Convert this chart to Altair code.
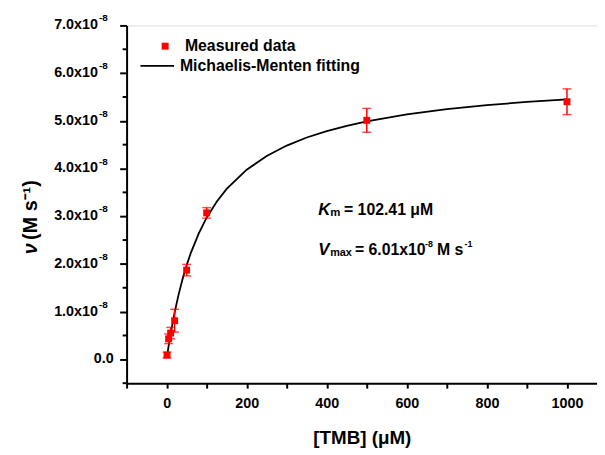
import altair as alt
import pandas as pd

# Measured data (velocity in units of 1e-8 M/s)
tmb_um = [1, 5, 10, 20, 50, 100, 500, 1000]
velocity_e8 = [0.09, 0.43, 0.55, 0.81, 1.87, 3.07, 5.01, 5.40]
error_e8 = [0.06, 0.10, 0.12, 0.24, 0.12, 0.11, 0.25, 0.27]

# Michaelis-Menten fitting curve
fit_x = [1, 5, 10, 20, 30, 40, 50, 60, 80, 100, 125, 150, 200, 250, 300,
         350, 400, 450, 500, 600, 700, 800, 900, 1000]
fit_y = [0.058, 0.280, 0.535, 0.982, 1.362, 1.688, 1.972, 2.220, 2.636,
         2.969, 3.304, 3.572, 3.975, 4.264, 4.481, 4.650, 4.785, 4.896,
         4.988, 5.134, 5.243, 5.328, 5.396, 5.452]

y_major = [0, 1, 2, 3, 4, 5, 6, 7]
y_major_text = ["0.0", "1.0x10", "2.0x10", "3.0x10", "4.0x10", "5.0x10", "6.0x10", "7.0x10"]
y_minor = [-0.5, 0.5, 1.5, 2.5, 3.5, 4.5, 5.5, 6.5]
x_ticks = [-100, 0, 100, 200, 300, 400, 500, 600, 700, 800, 900, 1000]

FONT = "Liberation Sans"
RED = "#ff0000"
W, H = 476, 362

pts = pd.DataFrame({"x": tmb_um, "y": velocity_e8,
                    "lo": [v - e for v, e in zip(velocity_e8, error_e8)],
                    "hi": [v + e for v, e in zip(velocity_e8, error_e8)]})
fit = pd.DataFrame({"x": fit_x, "y": fit_y})
ymaj = pd.DataFrame({"v": y_major, "t": y_major_text})
ymin = pd.DataFrame({"v": y_minor})
one = pd.DataFrame({"a": [0]})

xs = alt.Scale(domain=[-100, 1075], nice=False, zero=False)
ys = alt.Scale(domain=[-0.5, 7.0], nice=False, zero=False)

x_axis = alt.Axis(values=x_ticks, format="d",
                  labelExpr="datum.value >= 0 && datum.value % 200 == 0 ? datum.label : ''",
                  labelFlush=False, labelOverlap=False,
                  tickSize=5, tickWidth=2, tickColor="black",
                  domainColor="black", domainWidth=2, grid=False,
                  labelFont=FONT, labelFontSize=14.5, labelFontWeight="bold",
                  labelColor="black", labelPadding=9,
                  title="[TMB] (μM)", titleFont=FONT, titleFontSize=19,
                  titleFontWeight="bold", titleColor="black", titlePadding=19)
y_axis = alt.Axis(values=y_major, labels=False, title=None,
                  tickSize=7, tickWidth=2, tickColor="black",
                  domainColor="black", domainWidth=2, grid=False)


def X(f):
    return alt.X(f, scale=xs, axis=x_axis)


def Y(f):
    return alt.Y(f, scale=ys, axis=y_axis)


curve = alt.Chart(fit).mark_line(color="black", strokeWidth=1.8).encode(x=X("x:Q"), y=Y("y:Q"))
err = alt.Chart(pts).mark_rule(color=RED, strokeWidth=1.5).encode(x=X("x:Q"), y=Y("lo:Q"), y2="hi:Q")
cap_hi = alt.Chart(pts).mark_tick(color=RED, orient="horizontal", size=9, thickness=1.5).encode(
    x=X("x:Q"), y=Y("hi:Q"))
cap_lo = alt.Chart(pts).mark_tick(color=RED, orient="horizontal", size=9, thickness=1.5).encode(
    x=X("x:Q"), y=Y("lo:Q"))
squares = alt.Chart(pts).mark_square(color=RED, size=49, opacity=1).encode(x=X("x:Q"), y=Y("y:Q"))

minor_y = alt.Chart(ymin).mark_rule(color="black", strokeWidth=2).encode(
    y=Y("v:Q"), x=alt.value(-4), x2=alt.value(0))

lab_txt = dict(font=FONT, fontSize=14.5, fontWeight="bold", color="black")
lab_main = alt.Chart(ymaj[ymaj.v > 0]).mark_text(align="right", baseline="middle", **lab_txt).encode(
    y=Y("v:Q"), x=alt.value(-29), text="t:N")
lab_zero = alt.Chart(ymaj[ymaj.v == 0]).mark_text(align="right", baseline="middle", **lab_txt).encode(
    y=Y("v:Q"), x=alt.value(-13), text="t:N")
lab_exp = alt.Chart(ymaj[ymaj.v > 0]).mark_text(align="left", baseline="middle", dy=-7,
                                                font=FONT, fontSize=10, fontWeight="bold",
                                                color="black").encode(
    y=Y("v:Q"), x=alt.value(-28), text=alt.value("-8"))

# y title
y_nu = alt.Chart(one).mark_text(
    text="ν", angle=270, align="center", baseline="middle", font=FONT, fontSize=20,
    fontWeight="bold", fontStyle="italic", color="black").encode(
    x=alt.value(-97), y=alt.value(226))
y_unit = alt.Chart(one).mark_text(
    text="(M s⁻¹)", angle=270, align="left", baseline="middle", font=FONT, fontSize=20,
    fontWeight="bold", color="black").encode(
    x=alt.value(-97), y=alt.value(217))

# legend
leg_sq = alt.Chart(one).mark_square(color=RED, size=49, opacity=1).encode(
    x=alt.value(39), y=alt.value(21))
leg_t1 = alt.Chart(one).mark_text(text="Measured data", align="left", baseline="middle",
                                  font=FONT, fontSize=16, fontWeight="bold", color="black").encode(
    x=alt.value(59), y=alt.value(21))
leg_ln = alt.Chart(one).mark_rule(color="black", strokeWidth=1.8).encode(
    x=alt.value(14), x2=alt.value(48), y=alt.value(41))
leg_t2 = alt.Chart(one).mark_text(text="Michaelis-Menten fitting", align="left", baseline="middle",
                                  font=FONT, fontSize=16, fontWeight="bold", color="black").encode(
    x=alt.value(54), y=alt.value(41))


# annotations
def txt(s, x, y, size=16, style="normal"):
    return alt.Chart(one).mark_text(text=s, align="left", baseline="alphabetic", font=FONT,
                                    fontSize=size, fontWeight="bold", fontStyle=style,
                                    color="black").encode(x=alt.value(x), y=alt.value(y))


ann = [
    txt("K", 194, 192, 17, "italic"),
    txt("m", 206, 193, 11.5),
    txt("= 102.41 μM", 220, 192),
    txt("V", 194, 232, 17, "italic"),
    txt("max", 206, 233, 11),
    txt("= 6.01x10", 231, 232),
    txt("-8", 302, 224, 9),
    txt("M s", 314, 232),
    txt("-1", 342, 224, 9),
]

chart = alt.layer(curve, err, cap_hi, cap_lo, squares, minor_y, lab_main, lab_zero, lab_exp,
                  y_nu, y_unit, leg_sq, leg_t1, leg_ln, leg_t2, *ann).properties(
    width=W, height=H,
    autosize=alt.AutoSizeParams(type="none"),
    padding={"left": 120, "top": 15, "right": 0, "bottom": 66},
).configure_view(stroke=None).configure(background="white")

chart.save("out.html", embed_options={"renderer": "svg", "actions": False})
